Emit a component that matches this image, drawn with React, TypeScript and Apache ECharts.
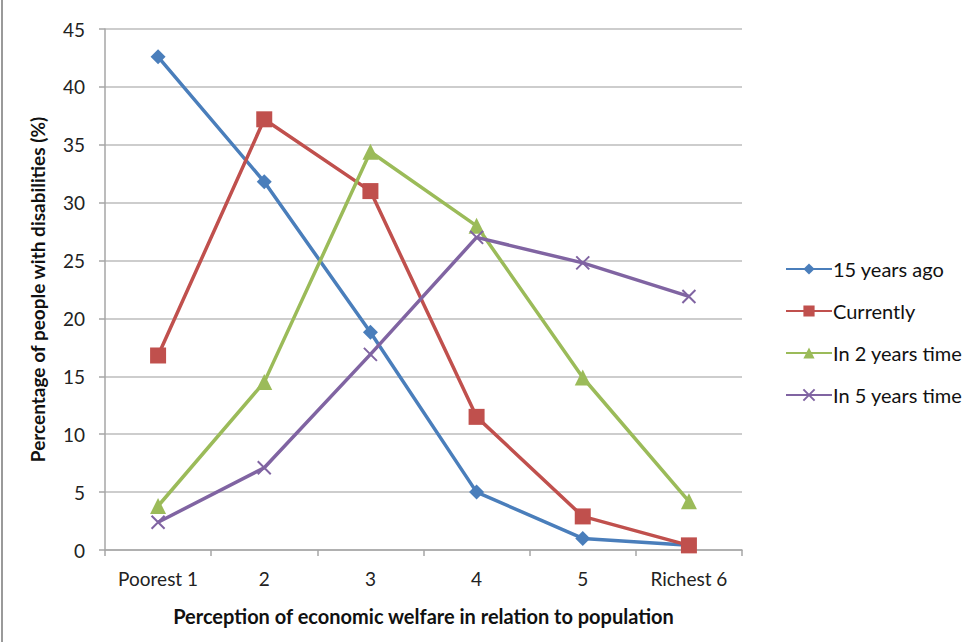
import React, { useEffect, useRef } from "react";
import * as echarts from "echarts";

const categories = ["Poorest 1", "2", "3", "4", "5", "Richest 6"];
const fifteenYearsAgo = [42.6, 31.8, 18.8, 5.0, 1.0, 0.4];
const currently = [16.8, 37.2, 31.0, 11.5, 2.9, 0.4];
const inTwoYears = [3.8, 14.5, 34.4, 28.0, 14.9, 4.2];
const inFiveYears = [2.4, 7.1, 16.9, 27.0, 24.8, 21.9];
const yTicks = { min: 0, max: 45, interval: 5 };

const FONT = "Lato";
const CROSS = "path://M0,0L10,10M10,0L0,10";

export default function App() {
  const ref = useRef<HTMLDivElement>(null);

  useEffect(() => {
    document.body.style.margin = "0";
    const chart = echarts.init(ref.current!, undefined, { renderer: "svg" });

    const mk = (name: string, data: number[], color: string, symbol: string, size: number, extra: any = {}) => ({
      name,
      type: "line",
      data,
      symbol,
      symbolSize: size,
      lineStyle: { color, width: 3.5 },
      itemStyle: { color, ...extra },
      emphasis: { disabled: true },
    });

    chart.setOption({
      animation: false,
      backgroundColor: "#ffffff",
      textStyle: { fontFamily: FONT },
      grid: { left: 105, right: 235, top: 29, bottom: 92, containLabel: false },
      xAxis: {
        type: "category",
        data: categories,
        boundaryGap: true,
        axisLine: { lineStyle: { color: "#a6a6a6", width: 1.5 } },
        axisTick: { show: true, length: 6, lineStyle: { color: "#a6a6a6", width: 1.5 } },
        axisLabel: { color: "#222", fontSize: 19, margin: 19, interval: 0, hideOverlap: false, fontFamily: FONT },
        name: "Perception of economic welfare in relation to population",
        nameLocation: "middle",
        nameGap: 56,
        nameTextStyle: { color: "#111", fontSize: 20, fontWeight: "bold", fontFamily: FONT },
      },
      yAxis: {
        type: "value",
        ...yTicks,
        axisLine: { show: true, lineStyle: { color: "#a6a6a6", width: 1.5 } },
        axisTick: { show: true, length: 6, lineStyle: { color: "#a6a6a6", width: 1.5 } },
        splitLine: { lineStyle: { color: "#bdbdbd", width: 1.5 } },
        axisLabel: { color: "#222", fontSize: 19, margin: 20, fontFamily: FONT },
        name: "Percentage of people with disabilities (%)",
        nameLocation: "middle",
        nameGap: 58,
        nameTextStyle: { color: "#111", fontSize: 19, fontWeight: "bold", fontFamily: FONT },
      },
      legend: {
        orient: "vertical",
        left: 780,
        top: 254,
        itemWidth: 46,
        itemHeight: 14,
        itemGap: 22,
        textStyle: { color: "#111", fontSize: 20, fontFamily: FONT, padding: [0, 0, 0, -4] },
        data: ["15 years ago", "Currently", "In 2 years time", "In 5 years time"],
      },
      graphic: [
        {
          type: "line",
          shape: { x1: 2, y1: 0, x2: 2, y2: 642 },
          style: { stroke: "#9a9a9a", lineWidth: 2 },
        },
      ],
      series: [
        mk("15 years ago", fifteenYearsAgo, "#4a7ebb", "diamond", 15),
        mk("Currently", currently, "#c0504d", "rect", 16),
        mk("In 2 years time", inTwoYears, "#9bbb59", "triangle", 16),
        mk("In 5 years time", inFiveYears, "#8064a2", CROSS, 13, { borderColor: "#8064a2", borderWidth: 2 }),
      ],
    });

    return () => chart.dispose();
  }, []);

  return <div ref={ref} style={{ width: 977, height: 642 }} />;
}
